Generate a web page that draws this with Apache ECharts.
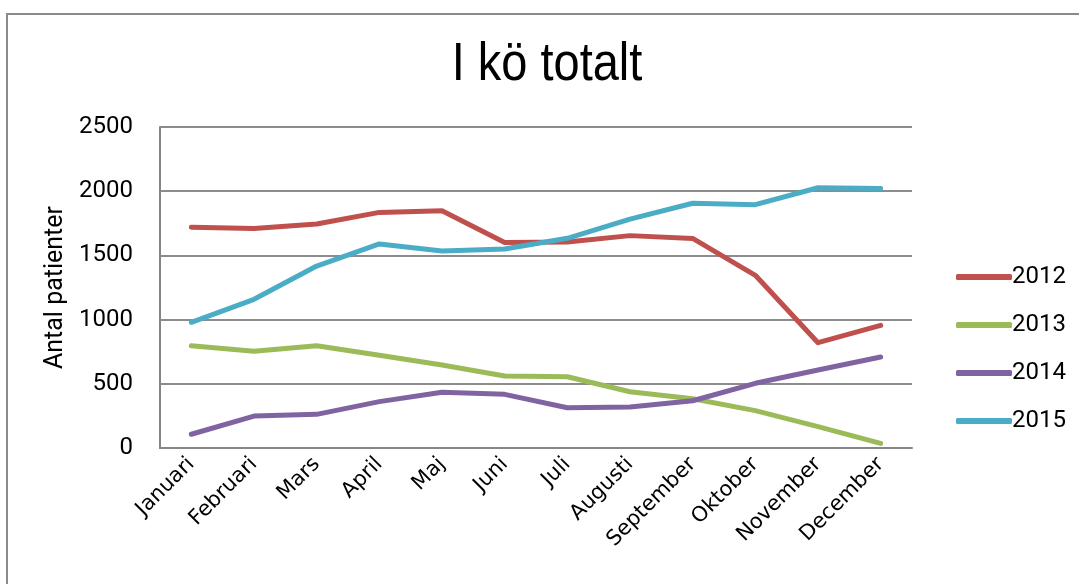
<!DOCTYPE html>
<html>
<head>
<meta charset="utf-8">
<script src="https://cdn.jsdelivr.net/npm/echarts@6/dist/echarts.min.js"></script>
<style>
  html, body { margin: 0; padding: 0; background: #fff; }
  #chart { width: 1079px; height: 584px; }
</style>
</head>
<body>
<div id="chart"></div>
<script>
// kategorier (månader)
const months = ["Januari", "Februari", "Mars", "April", "Maj", "Juni", "Juli",
  "Augusti", "September", "Oktober", "November", "December"];

// antal patienter i kö per år
const y2012 = [1720, 1710, 1745, 1835, 1848, 1600, 1605, 1654, 1632, 1345, 820, 955];
const y2013 = [797, 753, 797, 722, 646, 561, 555, 438, 384, 291, 166, 36];
const y2014 = [107, 249, 262, 361, 434, 418, 314, 319, 368, 504, 607, 709];
const y2015 = [979, 1158, 1417, 1589, 1534, 1550, 1633, 1783, 1906, 1895, 2027, 2022];

const years = ["2012", "2013", "2014", "2015"];
const colors = ["#C0504D", "#9BBB59", "#8064A2", "#4BACC6"];

const myChart = echarts.init(document.getElementById("chart"));

function lineSeries(name, data) {
  return {
    name: name,
    type: "line",
    data: data,
    showSymbol: false,
    symbol: "none",
    lineStyle: { width: 5, cap: "round", join: "round" },
    animation: false
  };
}

const options = {
  color: colors,
  animation: false,
  graphic: [
    {
      type: "rect",
      shape: { x: 7, y: 14, width: 1200, height: 700 },
      style: { fill: "none", stroke: "#8a8a8a", lineWidth: 2 },
      silent: true
    },
    {
      // titeln, smalare stil
      type: "text",
      x: 547,
      y: 65,
      scaleX: 0.87,
      style: {
        text: "I kö totalt",
        fontFamily: "Liberation Sans",
        fontSize: 54,
        fill: "#000",
        align: "center",
        verticalAlign: "middle"
      },
      silent: true
    }
  ],
  legend: {
    orient: "vertical",
    left: 951,
    top: 260,
    itemGap: 24,
    itemWidth: 56,
    itemHeight: 6,
    icon: "roundRect",
    data: years,
    textStyle: {
      fontFamily: "Roboto",
      fontSize: 24,
      color: "#000",
      padding: [0, 0, 0, -5]
    }
  },
  grid: {
    left: 160,
    right: 167,
    top: 127,
    bottom: 136,
    containLabel: false
  },
  xAxis: {
    type: "category",
    data: months,
    boundaryGap: true,
    axisLine: { lineStyle: { color: "#868686", width: 2 } },
    axisTick: { show: false },
    axisLabel: {
      rotate: 45,
      margin: 13,
      interval: 0,
      fontFamily: "DejaVu Sans",
      fontSize: 21,
      color: "#000"
    }
  },
  yAxis: {
    type: "value",
    min: 0,
    max: 2500,
    interval: 500,
    name: "Antal patienter",
    nameLocation: "middle",
    nameGap: 90,
    nameTextStyle: {
      fontFamily: "Roboto",
      fontSize: 25,
      color: "#000"
    },
    axisLine: { show: true, lineStyle: { color: "#868686", width: 2 } },
    axisTick: { show: false },
    axisLabel: {
      margin: 27,
      fontFamily: "Roboto",
      fontSize: 24,
      color: "#000",
      formatter: function (v) {
        return String(v);
      }
    },
    splitLine: { lineStyle: { color: "#8c8c8c", width: 2 } }
  },
  series: [
    lineSeries("2012", y2012),
    lineSeries("2013", y2013),
    lineSeries("2014", y2014),
    lineSeries("2015", y2015)
  ]
};

myChart.setOption(options);
</script>
</body>
</html>
